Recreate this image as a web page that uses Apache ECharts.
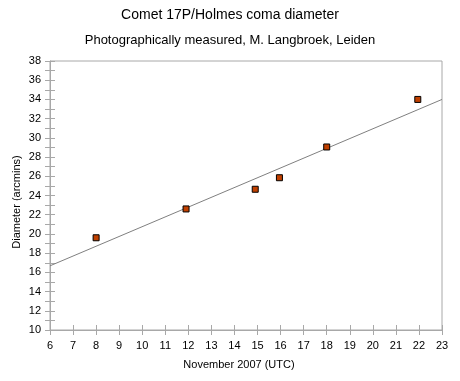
<!DOCTYPE html>
<html><head><meta charset="utf-8">
<script src="https://cdn.jsdelivr.net/npm/echarts@6/dist/echarts.min.js"></script>
<style>html,body{margin:0;padding:0;background:#fff}#c{width:460px;height:381px}</style>
</head><body><div id="c"></div>
<script>
var dates = [8, 11.9, 14.9, 15.95, 18, 21.95];
var diameters = [19.6, 22.6, 24.65, 25.85, 29.05, 34.0];
var trendX = [6, 23];
var trendY = [16.68, 34.0];
var titleText = 'Comet 17P/Holmes coma diameter';
var subtitleText = 'Photographically measured, M. Langbroek, Leiden';
var xName = 'November 2007 (UTC)';
var yName = 'Diameter (arcmins)';

var FONT = 'Liberation Sans, Arial, sans-serif';
var GRAY = '#a8a8a8';
var chart = echarts.init(document.getElementById('c'));
function xa(inside, labels) {
  return {type:'value', position:'bottom', min:6, max:23, interval:1,
    axisLine:{show:inside, lineStyle:{color:GRAY, width:1}},
    axisTick:{show:true, inside:inside, length:5, lineStyle:{color:GRAY}},
    axisLabel:{show:labels, color:'#000', fontFamily:FONT, fontSize:11, margin:10},
    splitLine:{show:false}};
}
function ya(inside, labels) {
  return {type:'value', position:'left', min:10, max:38, interval:1,
    axisLine:{show:inside, lineStyle:{color:GRAY, width:1}},
    axisTick:{show:true, inside:inside, length:5, lineStyle:{color:GRAY}},
    axisLabel:{show:labels, color:'#000', fontFamily:FONT, fontSize:11, margin:9,
      formatter:function(v){return v % 2 === 0 ? String(v) : '';}},
    splitLine:{show:false}};
}
chart.setOption({
  animation:false,
  backgroundColor:'#fff',
  grid:{left:50, right:18, top:61, bottom:51, show:true, borderColor:GRAY, borderWidth:1, backgroundColor:'transparent'},
  xAxis:[xa(true,true), xa(false,false)],
  yAxis:[ya(true,true), ya(false,false)],
  graphic:[
    {type:'text', left:'center', top:8, style:{text:titleText, fill:'#000', font:'14px '+FONT}},
    {type:'text', left:'center', top:34, style:{text:subtitleText, fill:'#000', font:'13px '+FONT}},
    {type:'text', x:239, y:365, style:{text:xName, fill:'#000', font:'11px '+FONT, align:'center', verticalAlign:'middle'}},
    {type:'text', x:17, y:202, rotation:Math.PI/2, style:{text:yName, fill:'#000', font:'11px '+FONT, align:'center', verticalAlign:'middle'}}
  ],
  series:[
    {type:'line', xAxisIndex:0, yAxisIndex:0, data:trendX.map(function(x,i){return [x,trendY[i]];}),
      symbol:'none', lineStyle:{color:'#808080', width:1}, z:2},
    {type:'scatter', xAxisIndex:0, yAxisIndex:0, data:dates.map(function(x,i){return [x,diameters[i]];}),
      symbol:'rect', symbolSize:6, itemStyle:{color:'#c04000', borderColor:'#000', borderWidth:1, opacity:1}, z:3}
  ]
});
</script></body></html>
